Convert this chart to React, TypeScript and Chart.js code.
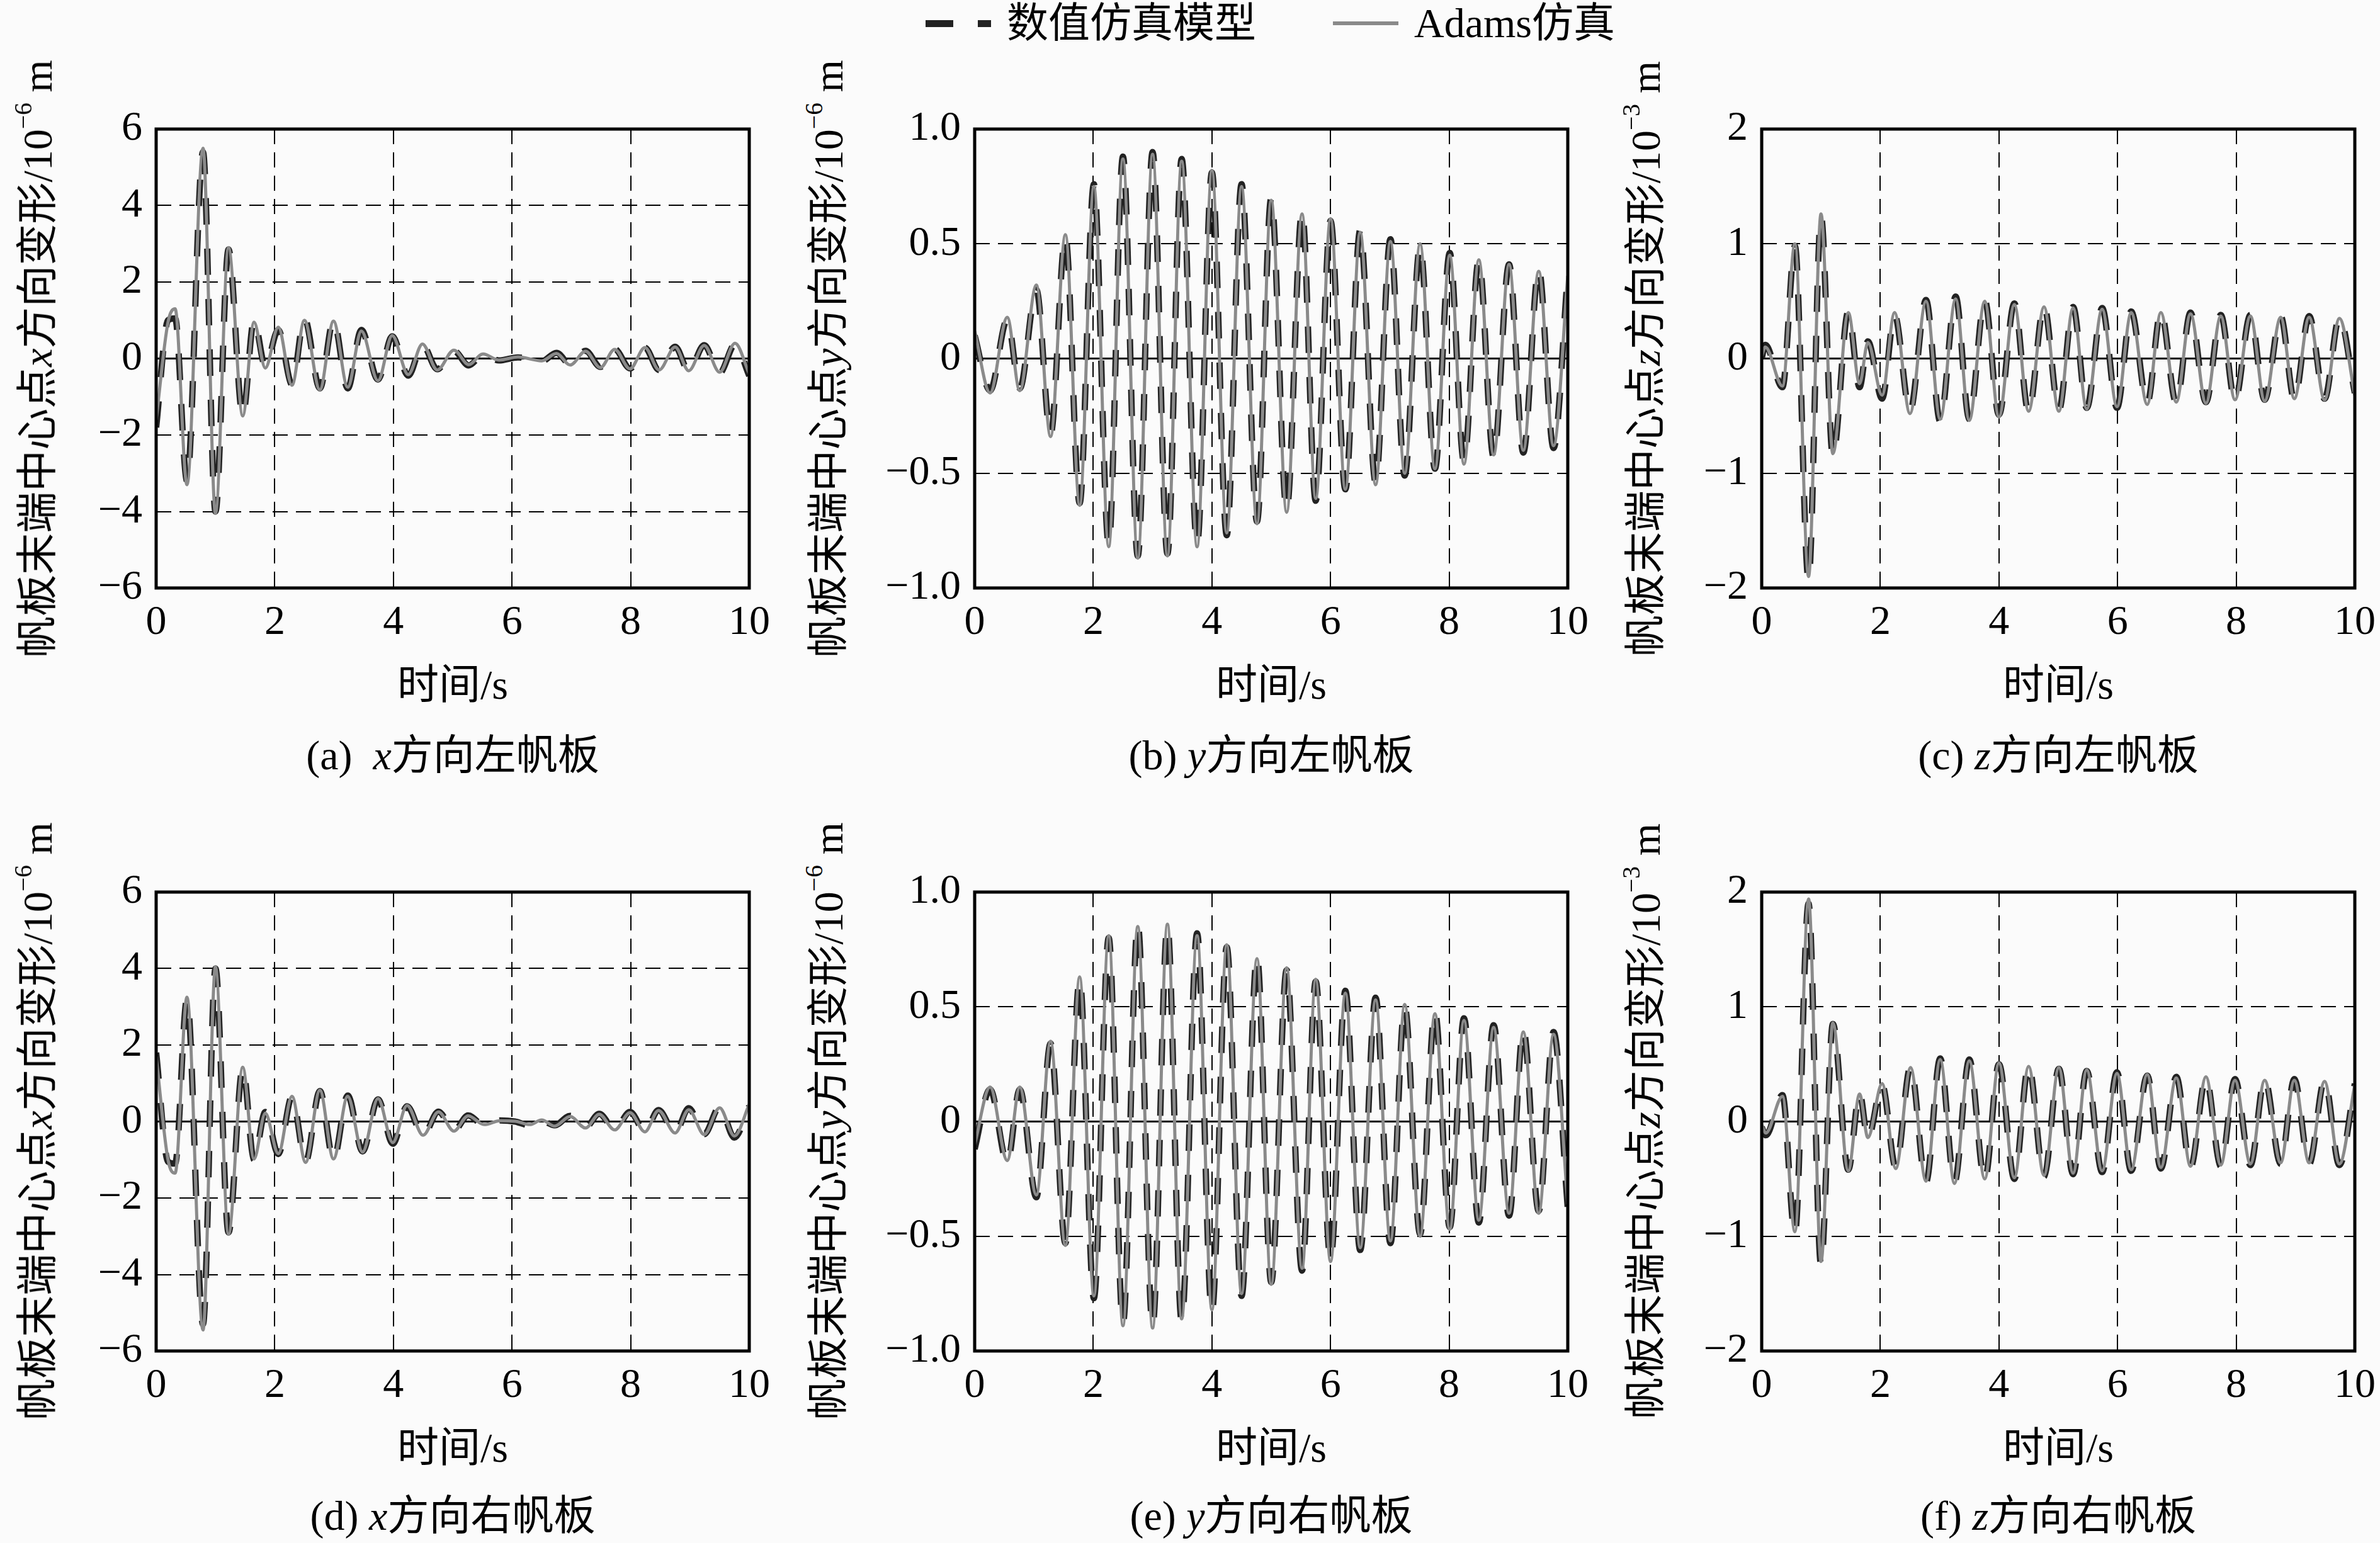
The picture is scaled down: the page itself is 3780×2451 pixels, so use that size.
import { useEffect, useRef } from 'react';
import { Chart, registerables } from 'chart.js';

Chart.register(...registerables);

// time stamps (s) of the turning points
const timeXLeft = [0, 0.2, 0.32, 0.52, 0.79, 1.0, 1.22, 1.46, 1.65, 1.84, 2.06, 2.29, 2.5, 2.76, 2.99, 3.23, 3.46, 3.74, 3.98, 4.25, 4.49, 4.74, 5.02, 5.27, 5.51, 5.78, 6.1, 6.5, 6.75, 6.98, 7.24, 7.49, 7.73, 7.99, 8.24, 8.48, 8.75, 8.98, 9.24, 9.5, 9.76, 10];
const numericXLeft = [-1.8, 1.0, 1.05, -3.2, 5.4, -4.0, 2.85, -1.5, 1.0, -0.2, 0.75, -0.68, 1.05, -0.78, 1.0, -0.78, 0.75, -0.55, 0.58, -0.45, 0.36, -0.28, 0.2, -0.18, 0.1, -0.05, 0.03, -0.07, 0.15, -0.15, 0.2, -0.22, 0.25, -0.26, 0.28, -0.3, 0.31, -0.33, 0.35, -0.38, 0.37, -0.45];
const adamsXLeft = [-1.6, 0.95, 1.3, -3.3, 5.5, -4.05, 2.9, -1.5, 0.95, -0.25, 0.82, -0.7, 1.0, -0.82, 0.98, -0.75, 0.72, -0.58, 0.6, -0.42, 0.38, -0.3, 0.22, -0.16, 0.12, -0.04, 0.04, -0.06, 0.13, -0.17, 0.19, -0.24, 0.24, -0.27, 0.29, -0.3, 0.3, -0.32, 0.34, -0.36, 0.4, -0.4];

const timeY = [0, 0.26, 0.55, 0.76, 1.04, 1.28, 1.53, 1.77, 2.01, 2.26, 2.5, 2.75, 3.0, 3.25, 3.49, 3.75, 4.0, 4.25, 4.5, 4.76, 5.0, 5.26, 5.52, 5.75, 6.0, 6.25, 6.5, 6.76, 7.01, 7.25, 7.51, 7.76, 8.01, 8.25, 8.5, 8.75, 9.01, 9.25, 9.51, 9.76, 10];
const numericYLeft = [0.1, -0.14, 0.17, -0.13, 0.3, -0.33, 0.53, -0.63, 0.76, -0.81, 0.88, -0.86, 0.9, -0.85, 0.87, -0.81, 0.81, -0.77, 0.76, -0.71, 0.7, -0.66, 0.64, -0.62, 0.6, -0.57, 0.56, -0.54, 0.52, -0.51, 0.49, -0.48, 0.46, -0.45, 0.43, -0.43, 0.41, -0.41, 0.39, -0.39, 0.37];
const adamsYLeft = [0.12, -0.15, 0.18, -0.14, 0.32, -0.34, 0.54, -0.64, 0.75, -0.82, 0.87, -0.87, 0.89, -0.86, 0.86, -0.82, 0.82, -0.76, 0.75, -0.72, 0.69, -0.67, 0.63, -0.61, 0.61, -0.57, 0.55, -0.55, 0.51, -0.5, 0.5, -0.48, 0.45, -0.46, 0.43, -0.42, 0.41, -0.4, 0.38, -0.38, 0.36];

const timeZLeft = [0, 0.06, 0.35, 0.56, 0.79, 1.0, 1.2, 1.46, 1.65, 1.79, 2.03, 2.24, 2.5, 2.77, 3.01, 3.27, 3.5, 3.76, 4.0, 4.26, 4.5, 4.76, 5.01, 5.25, 5.48, 5.74, 5.99, 6.23, 6.5, 6.73, 6.99, 7.23, 7.49, 7.74, 7.98, 8.24, 8.48, 8.75, 8.98, 9.23, 9.49, 9.74, 10];
const numericZLeft = [0.0, 0.12, -0.25, 0.98, -1.93, 1.24, -0.85, 0.41, -0.25, 0.15, -0.35, 0.38, -0.46, 0.51, -0.55, 0.54, -0.53, 0.51, -0.49, 0.48, -0.47, 0.46, -0.45, 0.45, -0.43, 0.44, -0.43, 0.41, -0.39, 0.41, -0.39, 0.4, -0.38, 0.38, -0.37, 0.38, -0.36, 0.37, -0.36, 0.37, -0.35, 0.36, -0.3];
const adamsZLeft = [0.02, 0.1, -0.24, 1.0, -1.9, 1.26, -0.83, 0.4, -0.22, 0.14, -0.32, 0.4, -0.48, 0.5, -0.53, 0.52, -0.54, 0.5, -0.51, 0.47, -0.46, 0.45, -0.46, 0.44, -0.44, 0.43, -0.42, 0.4, -0.4, 0.4, -0.38, 0.39, -0.39, 0.37, -0.36, 0.37, -0.37, 0.36, -0.35, 0.36, -0.36, 0.35, -0.32];

const timeXRight = [0, 0.2, 0.32, 0.52, 0.79, 1.0, 1.22, 1.46, 1.65, 1.84, 2.06, 2.29, 2.52, 2.76, 2.99, 3.23, 3.48, 3.74, 3.99, 4.23, 4.5, 4.76, 5.02, 5.26, 5.53, 5.8, 6.05, 6.3, 6.5, 6.72, 6.98, 7.24, 7.47, 7.73, 7.99, 8.24, 8.47, 8.75, 8.98, 9.24, 9.5, 9.75, 10];
const numericXRight = [1.8, -1.05, -1.1, 3.2, -5.3, 4.0, -2.9, 1.4, -1.0, 0.25, -0.85, 0.65, -1.05, 0.8, -1.0, 0.68, -0.78, 0.58, -0.58, 0.4, -0.37, 0.26, -0.24, 0.16, -0.1, 0.03, 0.0, -0.1, 0.02, -0.1, 0.15, -0.15, 0.2, -0.2, 0.25, -0.26, 0.3, -0.3, 0.35, -0.33, 0.38, -0.42, 0.4];
const adamsXRight = [1.7, -1.0, -1.35, 3.25, -5.45, 4.05, -2.95, 1.42, -0.98, 0.22, -0.84, 0.66, -1.07, 0.82, -0.98, 0.66, -0.8, 0.6, -0.55, 0.42, -0.36, 0.25, -0.25, 0.15, -0.08, 0.02, 0.01, -0.08, 0.04, -0.12, 0.13, -0.17, 0.19, -0.22, 0.23, -0.27, 0.29, -0.3, 0.31, -0.34, 0.36, -0.38, 0.45];

const numericYRight = [-0.12, 0.14, -0.18, 0.14, -0.33, 0.34, -0.53, 0.62, -0.77, 0.8, -0.88, 0.86, -0.89, 0.85, -0.87, 0.82, -0.83, 0.76, -0.76, 0.72, -0.7, 0.66, -0.65, 0.61, -0.6, 0.57, -0.56, 0.54, -0.53, 0.5, -0.49, 0.48, -0.46, 0.45, -0.44, 0.42, -0.41, 0.4, -0.39, 0.39, -0.38];
const adamsYRight = [-0.1, 0.15, -0.17, 0.15, -0.32, 0.35, -0.54, 0.63, -0.76, 0.81, -0.89, 0.85, -0.9, 0.86, -0.86, 0.81, -0.82, 0.77, -0.75, 0.71, -0.71, 0.67, -0.64, 0.62, -0.61, 0.56, -0.55, 0.53, -0.52, 0.51, -0.5, 0.47, -0.47, 0.44, -0.43, 0.41, -0.4, 0.39, -0.4, 0.38, -0.36];

const timeZRight = [0, 0.07, 0.35, 0.56, 0.79, 1.0, 1.2, 1.46, 1.65, 1.79, 2.03, 2.26, 2.51, 2.77, 3.01, 3.25, 3.5, 3.76, 4.0, 4.26, 4.5, 4.76, 5.01, 5.25, 5.48, 5.74, 5.99, 6.23, 6.5, 6.73, 6.99, 7.23, 7.49, 7.74, 7.98, 8.24, 8.48, 8.75, 8.98, 9.23, 9.49, 9.74, 10];
const numericZRight = [-0.05, -0.12, 0.23, -0.98, 1.9, -1.25, 0.85, -0.42, 0.25, -0.15, 0.32, -0.4, 0.48, -0.53, 0.55, -0.53, 0.54, -0.51, 0.5, -0.5, 0.49, -0.48, 0.46, -0.46, 0.44, -0.44, 0.43, -0.43, 0.4, -0.41, 0.39, -0.4, 0.38, -0.39, 0.37, -0.38, 0.37, -0.37, 0.37, -0.37, 0.36, -0.38, 0.33];
const adamsZRight = [-0.03, -0.1, 0.22, -0.96, 1.94, -1.22, 0.86, -0.43, 0.24, -0.14, 0.33, -0.41, 0.47, -0.52, 0.54, -0.54, 0.53, -0.5, 0.51, -0.49, 0.48, -0.47, 0.47, -0.45, 0.45, -0.43, 0.42, -0.42, 0.41, -0.4, 0.38, -0.39, 0.39, -0.38, 0.36, -0.37, 0.36, -0.36, 0.36, -0.36, 0.35, -0.37, 0.32];

const FONT = '"Liberation Serif", "Times New Roman", "Noto Sans CJK SC", serif';
const DARK = '#222222';
const GRAY = '#8a8a8a';
const BG = '#fbfbfb';

const AXIS_W = 170;
const AXIS_H = 110;
const PAD_T = 45;
const PAD_R = 45;
const PLOT_W = 942;
const PLOT_H = 729;

const framePlugin = {
  id: 'frame',
  beforeDatasetsDraw(chart: any) {
    const { ctx, chartArea, scales } = chart;
    const y0 = scales.y.getPixelForValue(0);
    ctx.save();
    ctx.strokeStyle = '#000';
    ctx.lineWidth = 3;
    ctx.beginPath();
    ctx.moveTo(chartArea.left, y0);
    ctx.lineTo(chartArea.right, y0);
    ctx.stroke();
    ctx.restore();
  },
  afterDraw(chart: any) {
    const { ctx, chartArea } = chart;
    ctx.save();
    ctx.strokeStyle = '#000';
    ctx.lineWidth = 5;
    ctx.strokeRect(chartArea.left, chartArea.top, chartArea.width, chartArea.height);
    ctx.restore();
  },
};

// keep the plot box exactly where it is meant to be: no extra room for edge labels
const zeroPadding = (s: any) => {
  s.paddingTop = 0;
  s.paddingBottom = 0;
  s.paddingLeft = 0;
  s.paddingRight = 0;
};

interface PanelProps {
  times: number[];
  numeric: number[];
  adams: number[];
  yMin: number;
  yMax: number;
  yStep: number;
  decimals: number;
  left: number;
  top: number;
}

function Panel({ times, numeric, adams, yMin, yMax, yStep, decimals, left, top }: PanelProps) {
  const canvasRef = useRef<HTMLCanvasElement>(null);

  useEffect(() => {
    if (!canvasRef.current) return;
    const chart = new Chart(canvasRef.current, {
      type: 'line',
      data: {
        datasets: [
          {
            label: 'Adams仿真',
            data: times.map((t, i) => ({ x: t, y: adams[i] })),
            borderColor: GRAY,
            borderWidth: 5,
            pointRadius: 0,
            cubicInterpolationMode: 'monotone',
            order: 1,
          },
          {
            label: '数值仿真模型',
            data: times.map((t, i) => ({ x: t, y: numeric[i] })),
            borderColor: DARK,
            borderWidth: 10,
            borderDash: [42, 38],
            pointRadius: 0,
            cubicInterpolationMode: 'monotone',
            order: 2,
          },
        ],
      },
      options: {
        animation: false,
        responsive: false,
        devicePixelRatio: 1,
        layout: { padding: { top: PAD_T, right: PAD_R, left: 0, bottom: 0 } },
        plugins: { legend: { display: false }, tooltip: { enabled: false } },
        scales: {
          x: {
            type: 'linear',
            min: 0,
            max: 10,
            ticks: { stepSize: 2, color: '#000', padding: 16, maxRotation: 0, font: { family: FONT, size: 66 } },
            grid: { color: '#000', lineWidth: 2, drawTicks: false },
            border: { display: false, dash: [24, 13] },
            afterFit: (s: any) => {
              s.height = AXIS_H;
              zeroPadding(s);
            },
          },
          y: {
            type: 'linear',
            min: yMin,
            max: yMax,
            ticks: {
              stepSize: yStep,
              color: '#000',
              padding: 22,
              font: { family: FONT, size: 66 },
              callback: (v: any) => {
                const n = Number(v);
                if (Math.abs(n) < 1e-9) return '0';
                return n.toFixed(decimals).replace('-', '\u2212');
              },
            },
            grid: { color: '#000', lineWidth: 2, drawTicks: false },
            border: { display: false, dash: [24, 13] },
            afterFit: (s: any) => {
              s.width = AXIS_W;
              zeroPadding(s);
            },
          },
        },
      },
      plugins: [framePlugin],
    });
    return () => chart.destroy();
  }, [times, numeric, adams, yMin, yMax, yStep, decimals]);

  return (
    <canvas
      ref={canvasRef}
      width={AXIS_W + PLOT_W + PAD_R}
      height={PAD_T + PLOT_H + AXIS_H}
      style={{ position: 'absolute', left: left - AXIS_W, top: top - PAD_T, display: 'block' }}
    />
  );
}

const textBase: React.CSSProperties = {
  position: 'absolute',
  fontFamily: FONT,
  fontSize: 66,
  lineHeight: 1,
  whiteSpace: 'nowrap',
  color: '#000',
};

function YTitle({ cx, cy, axis, exp }: { cx: number; cy: number; axis: string; exp: string }) {
  return (
    <div style={{ ...textBase, left: cx, top: cy, transform: 'translate(-50%, -50%) rotate(-90deg)' }}>
      帆板末端中心点<i>{axis}</i>方向变形/10
      <sup style={{ fontSize: '0.6em', verticalAlign: '0.8em', lineHeight: 0 }}>{'\u2212' + exp}</sup> m
    </div>
  );
}

function Centered({ cx, cy, children }: { cx: number; cy: number; children: React.ReactNode }) {
  return <div style={{ ...textBase, left: cx, top: cy, transform: 'translate(-50%, -50%)' }}>{children}</div>;
}

const COLS = [248, 1548, 2798];
const ROWS = [205, 1417];

export default function App() {
  const cx = COLS.map((l) => l + PLOT_W / 2);
  return (
    <div style={{ position: 'absolute', left: 0, top: 0, width: 3780, height: 2451, background: BG, overflow: 'hidden' }}>
      {/* legend */}
      <div style={{ position: 'absolute', left: 1470, top: 32, width: 44, height: 11, background: DARK }} />
      <div style={{ position: 'absolute', left: 1553, top: 32, width: 21, height: 11, background: DARK }} />
      <div style={{ ...textBase, left: 1599, top: 37, transform: 'translateY(-50%)' }}>数值仿真模型</div>
      <div style={{ position: 'absolute', left: 2117, top: 34, width: 104, height: 6, background: GRAY }} />
      <div style={{ ...textBase, left: 2246, top: 37, transform: 'translateY(-50%)' }}>Adams仿真</div>

      <Panel times={timeXLeft} numeric={numericXLeft} adams={adamsXLeft} yMin={-6} yMax={6} yStep={2} decimals={0} left={COLS[0]} top={ROWS[0]} />
      <Panel times={timeY} numeric={numericYLeft} adams={adamsYLeft} yMin={-1} yMax={1} yStep={0.5} decimals={1} left={COLS[1]} top={ROWS[0]} />
      <Panel times={timeZLeft} numeric={numericZLeft} adams={adamsZLeft} yMin={-2} yMax={2} yStep={1} decimals={0} left={COLS[2]} top={ROWS[0]} />
      <Panel times={timeXRight} numeric={numericXRight} adams={adamsXRight} yMin={-6} yMax={6} yStep={2} decimals={0} left={COLS[0]} top={ROWS[1]} />
      <Panel times={timeY} numeric={numericYRight} adams={adamsYRight} yMin={-1} yMax={1} yStep={0.5} decimals={1} left={COLS[1]} top={ROWS[1]} />
      <Panel times={timeZRight} numeric={numericZRight} adams={adamsZRight} yMin={-2} yMax={2} yStep={1} decimals={0} left={COLS[2]} top={ROWS[1]} />

      <YTitle cx={60} cy={570} axis="x" exp="6" />
      <YTitle cx={1316} cy={570} axis="y" exp="6" />
      <YTitle cx={2614} cy={570} axis="z" exp="3" />
      <YTitle cx={60} cy={1781} axis="x" exp="6" />
      <YTitle cx={1316} cy={1781} axis="y" exp="6" />
      <YTitle cx={2614} cy={1781} axis="z" exp="3" />

      {cx.map((x, i) => (
        <Centered key={'t0' + i} cx={x} cy={1088}>时间/s</Centered>
      ))}
      {cx.map((x, i) => (
        <Centered key={'t1' + i} cx={x} cy={2300}>时间/s</Centered>
      ))}

      <Centered cx={cx[0]} cy={1200}>(a)&nbsp;&nbsp;<i>x</i>方向左帆板</Centered>
      <Centered cx={cx[1]} cy={1200}>(b) <i>y</i>方向左帆板</Centered>
      <Centered cx={cx[2]} cy={1200}>(c) <i>z</i>方向左帆板</Centered>
      <Centered cx={cx[0]} cy={2408}>(d) <i>x</i>方向右帆板</Centered>
      <Centered cx={cx[1]} cy={2408}>(e) <i>y</i>方向右帆板</Centered>
      <Centered cx={cx[2]} cy={2408}>(f) <i>z</i>方向右帆板</Centered>
    </div>
  );
}
